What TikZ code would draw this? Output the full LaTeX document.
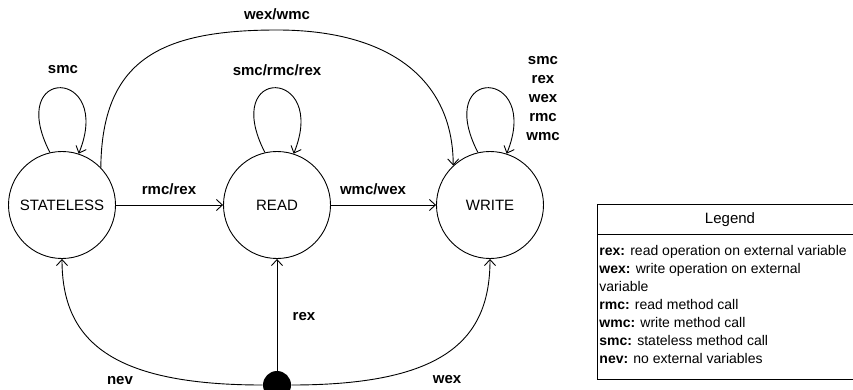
\documentclass[tikz,border=0pt]{standalone}
\usepackage{fontspec}
\setmainfont{Liberation Sans}
\usetikzlibrary{arrows.meta}

\begin{document}
\begin{tikzpicture}[x=1pt, y=-1pt, line width=0.9pt,
		state/.style={draw, circle, minimum size=107pt, inner sep=0pt, font=\fontsize{15}{18}\selectfont},
		lbl/.style={inner sep=0pt, font=\fontsize{15}{19}\selectfont\bfseries},
		trans/.style={-{Straight Barb[length=6pt,width=11pt]}},
		legtext/.style={inner sep=0pt, anchor=north west, align=left, font=\fontsize{14}{18}\selectfont}]

		\clip (0,0) rectangle (853,390);

		\node[state, at={(62,205)}] (stateless) {STATELESS};
		\node[state, at={(277,205)}] (read) {READ};
		\node[state, at={(490,205)}] (write) {WRITE};
		\node[circle, fill, minimum size=28pt, inner sep=0pt, at={(277,385)}] (src) {};

		\draw[trans] (stateless) -- (read);
		\draw[trans] (read) -- (write);
		\draw[trans] (stateless.44) .. controls (102,60) and (160,30) .. (277,30)
			.. controls (390,30) and (453,80) .. (write.133);

		\draw[trans] (stateless.103) .. controls +(-45,-88) and +(35,-86) .. (stateless.72);
		\draw[trans] (read.103) .. controls +(-45,-88) and +(35,-86) .. (read.72);
		\draw[trans] (write.103) .. controls +(-45,-88) and +(35,-86) .. (write.72);

		\draw[trans] (src.west) .. controls (110,385) and (62,340) .. (stateless.south);
		\draw[trans] (src.north) -- (read.south);
		\draw[trans] (src.east) .. controls (444,385) and (490,340) .. (write.south);

		\node[lbl, at={(169,189)}] (lrmc) {rmc/rex};
		\node[lbl, at={(373,189)}] (lwmc) {wmc/wex};
		\node[lbl, at={(277,14)}] (lwex) {wex/wmc};
		\node[lbl, at={(63,70)}] (lsmc) {smc};
		\node[lbl, at={(277,70)}] (lread) {smc/rmc/rex};
		\node[lbl, align=center, at={(543,99)}] (lwrite) {smc\\rex\\wex\\rmc\\wmc};
		\node[lbl, at={(120,381)}] (lnev) {nev};
		\node[lbl, at={(304,317)}] (lrex) {rex};
		\node[lbl, at={(447,380)}] (lwexb) {wex};

		\draw (597,204) rectangle (863,379);
		\draw (597,234) -- (863,234);
		\node[inner sep=0pt, font=\fontsize{15}{18}\selectfont, at={(730,220)}] (legtitle) {Legend};
		\node[legtext, at={(599,245)}] (legbody) {\textbf{rex:} read operation on external variable\\
			\textbf{wex:} write operation on external\\
			variable\\
			\textbf{rmc:} read method call\\
			\textbf{wmc:} write method call\\
			\textbf{smc:} stateless method call\\
			\textbf{nev:} no external variables};

\end{tikzpicture}
\end{document}
